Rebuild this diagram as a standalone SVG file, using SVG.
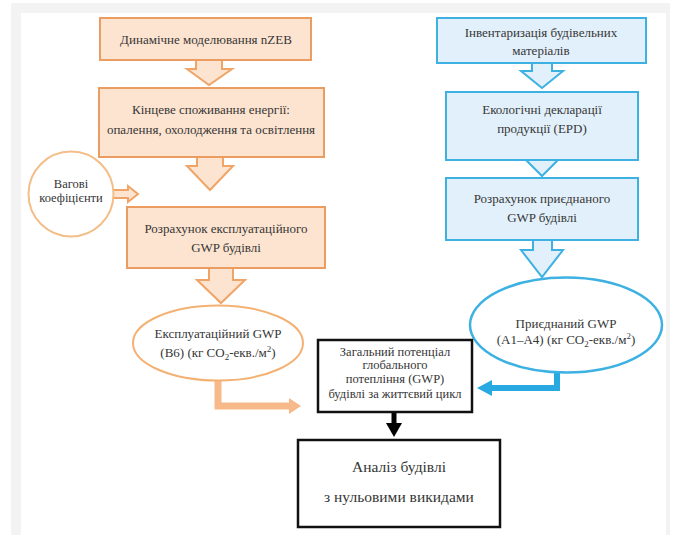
<svg xmlns="http://www.w3.org/2000/svg" width="673" height="535" viewBox="0 0 673 535">
<style>
text{font-family:"Liberation Serif","Times New Roman",serif;fill:#363636;text-anchor:middle;font-size:13px}
.ob{fill:#fde4d0;stroke:#eb9d61;stroke-width:2}
.bb{fill:#e2f0fb;stroke:#3cb1e2;stroke-width:2}
.oa{fill:#fde4d0;stroke:#f0a466;stroke-width:2;stroke-linejoin:miter}
.ba{fill:#e2f0fb;stroke:#3cb1e2;stroke-width:2;stroke-linejoin:miter}
.kb{fill:#fff;stroke:#111;stroke-width:2.5}
.big{font-size:15.5px}
.sm{font-size:12.5px}
</style>
<rect x="11" y="3" width="659" height="532" fill="#f3f3f3"/>
<rect x="21" y="13" width="645" height="522" fill="#fff"/>

<g id="connectors">
<path class="oa" d="M196,60 H222 V69 H232 L209,85 L187,69 H196 Z"/>
<path class="oa" d="M197,157 H223 V166 H233 L210,190 L187,166 H197 Z"/>
<path class="oa" d="M112,190 H128 V186 L138,194 L128,202 V198 H112 Z"/>
<path class="oa" d="M209,268 H233 V280 H245 L221,303 L197,280 H209 Z"/>
<path class="ba" d="M532,63 H552 V71 H563 L542,88 L521,71 H532 Z"/>
<path class="ba" d="M533,160 H552 V155 H563 L542,176 L521,155 H533 Z"/>
<path class="ba" d="M533,240 H552 V250 H563 L542,277 L521,250 H533 Z"/>
<path d="M218,380 V406 H290" fill="none" stroke="#f8b98a" stroke-width="7"/>
<path d="M289,398 L301,406 L289,414 Z" fill="#f8b98a"/>
<path d="M557,372 V388 H490" fill="none" stroke="#29a9e1" stroke-width="6"/>
<path d="M492,380 L477,388 L492,396 Z" fill="#29a9e1"/>
<path d="M394,412 V425" stroke="#000" stroke-width="5"/>
<path d="M386,423 H402 L394,437 Z" fill="#000"/>
</g>

<g id="o1"><rect class="ob" x="100" y="18" width="211" height="42"/>
<text x="206" y="44">Динамічне моделювання nZEB</text></g>
<g id="o2"><rect class="ob" x="99" y="88" width="225" height="69"/>
<text x="211" y="114">Кінцеве споживання енергії:</text>
<text x="211" y="134">опалення, охолодження та освітлення</text></g>
<g id="w"><circle cx="71" cy="194" r="42.5" fill="#fff" stroke="#f3be88" stroke-width="2"/>
<text class="sm" x="71" y="188">Вагові</text>
<text class="sm" x="71" y="202">коефіцієнти</text></g>
<g id="o3"><rect class="ob" x="127" y="207" width="198" height="61"/>
<text x="226" y="233">Розрахунок експлуатаційного</text>
<text x="226" y="252">GWP будівлі</text></g>
<g id="oe"><ellipse cx="218" cy="343" rx="85" ry="37.5" fill="#fff" stroke="#f3b273" stroke-width="2"/>
<text x="218" y="338">Експлуатаційний GWP</text>
<text x="218" y="357">(B6) (кг CO<tspan font-size="9" dy="3">2</tspan><tspan dy="-3">-екв./м</tspan><tspan font-size="9" dy="-5">2</tspan><tspan dy="5">)</tspan></text></g>

<g id="b1"><rect class="bb" x="437" y="18" width="209" height="45"/>
<text x="541" y="37">Інвентаризація будівельних</text>
<text x="541" y="55">матеріалів</text></g>
<g id="b2"><rect class="bb" x="446" y="92" width="192" height="68"/>
<text x="542" y="114">Екологічні декларації</text>
<text x="542" y="133">продукції (EPD)</text></g>
<g id="b3"><rect class="bb" x="446" y="178" width="192" height="62"/>
<text x="542" y="203">Розрахунок приєднаного</text>
<text x="542" y="222">GWP будівлі</text></g>
<g id="be"><ellipse cx="566" cy="325" rx="96" ry="47.5" fill="#fff" stroke="#3cb1e2" stroke-width="2.5"/>
<text x="566" y="328">Приєднаний GWP</text>
<text x="566" y="344">(A1–A4) (кг CO<tspan font-size="9" dy="3">2</tspan><tspan dy="-3">-екв./м</tspan><tspan font-size="9" dy="-5">2</tspan><tspan dy="5">)</tspan></text></g>

<g id="total"><rect class="kb" x="318" y="340" width="154" height="72"/>
<text class="sm" x="395" y="356">Загальний потенціал</text>
<text class="sm" x="395" y="369">глобального</text>
<text class="sm" x="395" y="383">потепління (GWP)</text>
<text class="sm" x="395" y="398">будівлі за життєвий цикл</text></g>
<g id="final"><rect class="kb" x="298" y="440" width="202" height="87"/>
<text class="big" x="399" y="472">Аналіз будівлі</text>
<text class="big" x="399" y="502">з нульовими викидами</text></g>
</svg>
